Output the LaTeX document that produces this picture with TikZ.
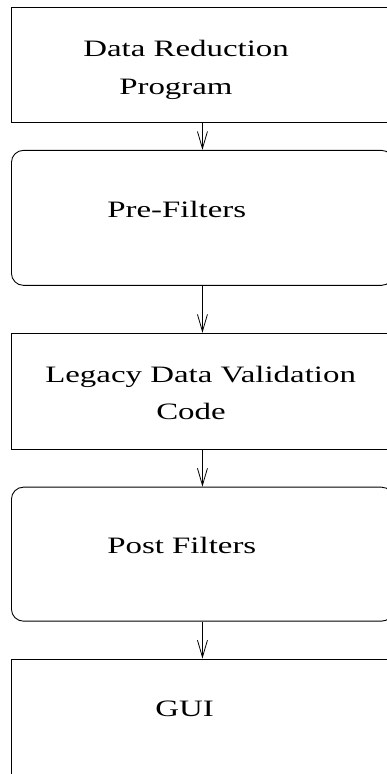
\documentclass[tikz,border=0pt]{standalone}
\usepackage{fontspec}
\setmainfont{Liberation Serif}
\usetikzlibrary{positioning}
\usetikzlibrary{arrows.meta}

\begin{document}
\begin{tikzpicture}[x = 1pt, y = -1pt,
		box/.style = {draw, line width = 0.9pt, minimum width = 382pt, inner sep = 0pt},
		rbox/.style = {box, rounded corners = 12pt},
		lbl/.style = {anchor = base west, inner sep = 0pt, xscale = 1.4, font = \fontsize{23.5}{28}\selectfont},
		flow/.style = {-{Straight Barb[length = 17pt, width = 10pt]}, line width = 0.8pt}]
			\useasboundingbox (0,0) rectangle (387,774);
			\clip (0,0) rectangle (387,774);
			\node[box, minimum height = 115pt, anchor = north west] (dataprog) at (11,7) {};
			\node[rbox, minimum height = 135pt, below = 27pt of dataprog] (prefilt) {};
			\node[box, minimum height = 116pt, below = 47pt of prefilt] (legacy) {};
			\node[rbox, minimum height = 134pt, below = 37pt of legacy] (postfilt) {};
			\node[box, minimum height = 135pt, below = 37pt of postfilt] (gui) {};
			\path[flow] (dataprog) edge (prefilt);
			\path[flow] (prefilt) edge (legacy);
			\path[flow] (legacy) edge (postfilt);
			\path[flow] (postfilt) edge (gui);
			\node[lbl] (dataprogA) at (83,56) {Data Reduction};
			\node[lbl] (dataprogB) at (119,94) {Program};
			\node[lbl] (prefiltA) at (107,217) {Pre-Filters};
			\node[lbl] (legacyA) at (45,382) {Legacy Data Validation};
			\node[lbl] (legacyB) at (156,419) {Code};
			\node[lbl] (postfiltA) at (107,553) {Post Filters};
			\node[lbl] (guiA) at (155,716) {GUI};
		\end{tikzpicture}
\end{document}
